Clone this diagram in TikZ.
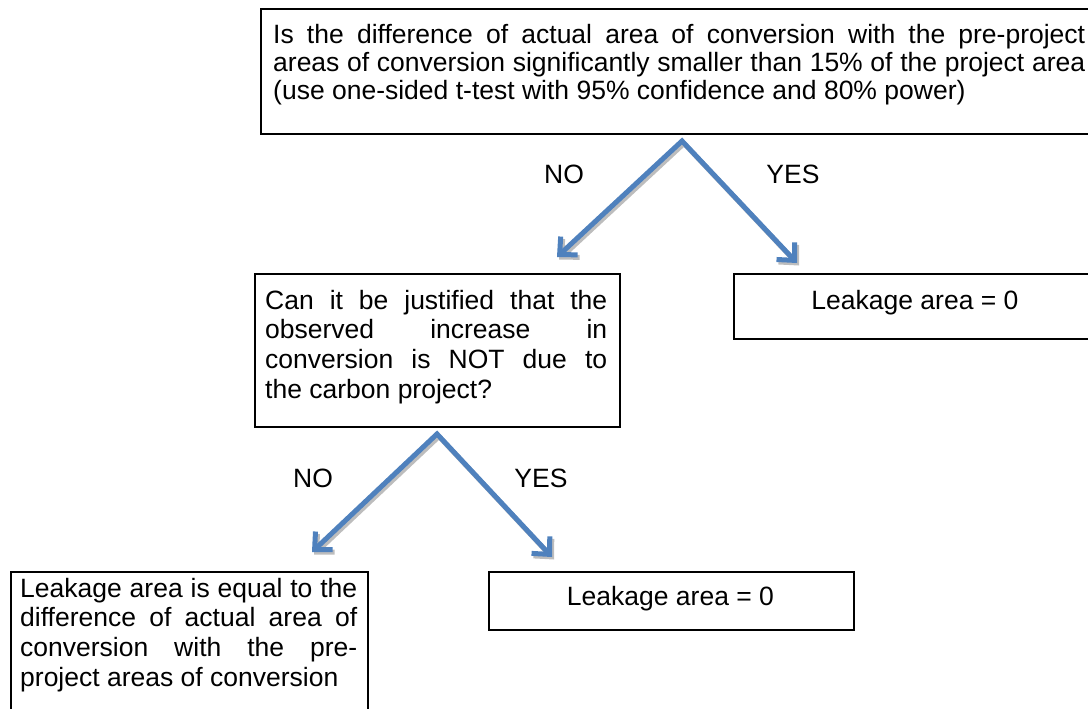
\documentclass[tikz,border=0pt]{standalone}
\usepackage{fontspec}
\setmainfont{Liberation Sans}
\usetikzlibrary{arrows.meta}
\definecolor{arrowblue}{HTML}{4F81BD}
\definecolor{shadowgray}{HTML}{BDBDBD}
\newcommand{\jline}[1]{\makebox[\linewidth][s]{#1}\\}
\begin{document}
\begin{tikzpicture}[x=1pt,y=-1pt,
  box/.style={draw=black, line width=1.6pt, inner sep=0pt, anchor=north west},
  txt/.style={inner sep=0pt, anchor=base west},
  lbl/.style={inner sep=0pt, font=\fontsize{26.5}{30}\selectfont},
  >={Straight Barb[length=13pt,width=25pt]},
  flow/.style={arrowblue, line width=5pt, line join=miter, <->},
  flowshadow/.style={shadowgray, line width=5pt, line join=miter, <->,
    transform canvas={xshift=2pt,yshift=-2.5pt}}
]
\useasboundingbox (0,0) rectangle (1088,709);
\clip (0,0) rectangle (1088,709);

% boxes
\node[box, minimum width=850pt, minimum height=125pt] (q1) at (260,8) {};
\node[box, minimum width=365pt, minimum height=153pt] (q2) at (254,273) {};
\node[box, minimum width=380pt, minimum height=65pt] (yes1) at (733,273) {};
\node[box, minimum width=357pt, minimum height=160pt] (no2) at (10,571) {};
\node[box, minimum width=365pt, minimum height=58pt] (yes2) at (488,571) {};

% texts
\node[txt] (q1t) at (273,44) {\parbox[t]{812pt}{\fontsize{26.5}{28}\selectfont\parindent=0pt
\jline{Is the difference of actual area of conversion with the pre-project}
\jline{areas of conversion significantly smaller than 15\% of the project area}
(use one-sided t-test with 95\% confidence and 80\% power)}};

\node[txt] (q2t) at (265,309) {\parbox[t]{342pt}{\fontsize{26.5}{29.7}\selectfont\parindent=0pt
\jline{Can it be justified that the}
\jline{observed increase in}
\jline{conversion is NOT due to}
the carbon project?}};

\node[txt] (no2t) at (20,597) {\parbox[t]{337pt}{\fontsize{26.5}{29.7}\selectfont\parindent=0pt
\jline{Leakage area is equal to the}
\jline{difference of actual area of}
\jline{conversion with the pre-}
project areas of conversion}};

\node[lbl, anchor=base] (yes1t) at (915,309) {Leakage area = 0};
\node[lbl, anchor=base] (yes2t) at (670.5,605) {Leakage area = 0};

% connector points
\coordinate (apex1) at (682,141);
\coordinate (tipA) at (557,257);
\coordinate (tipB) at (797,263);
\coordinate (apex2) at (437,434);
\coordinate (tipC) at (312,552);
\coordinate (tipD) at (552,557);

\draw[flowshadow] (tipA) -- (apex1) -- (tipB);
\draw[flow] (tipA) -- (apex1) -- (tipB);
\draw[flowshadow] (tipC) -- (apex2) -- (tipD);
\draw[flow] (tipC) -- (apex2) -- (tipD);

% labels
\node[lbl] (no1l) at (564,174) {NO};
\node[lbl] (yes1l) at (793,174) {YES};
\node[lbl] (no2l) at (313,478) {NO};
\node[lbl] (yes2l) at (541,478) {YES};
\end{tikzpicture}
\end{document}
